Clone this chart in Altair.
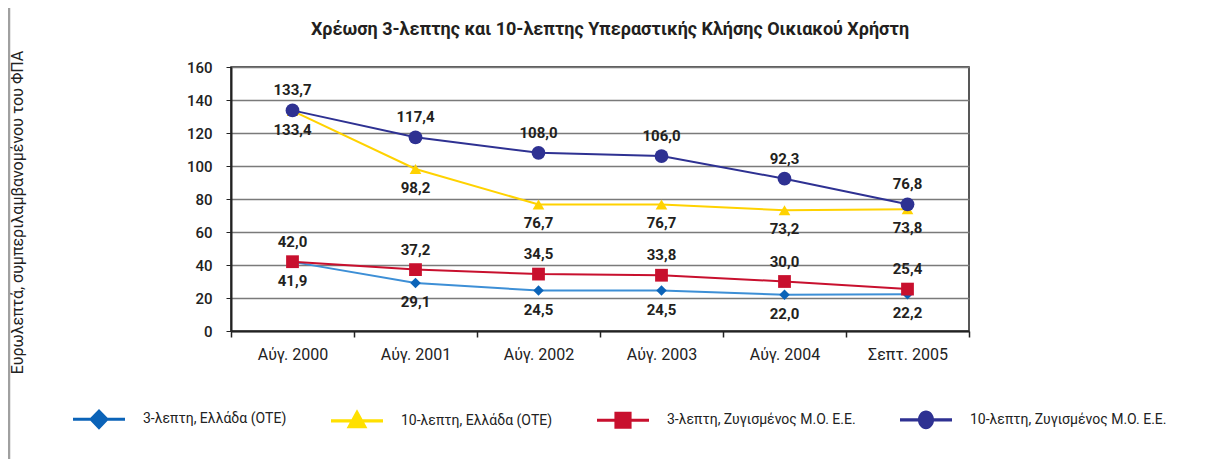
import altair as alt
import pandas as pd

categories = ["Αύγ. 2000", "Αύγ. 2001", "Αύγ. 2002", "Αύγ. 2003", "Αύγ. 2004", "Σεπτ. 2005"]
series_names = [
    "3-λεπτη, Ελλάδα (ΟΤΕ)",
    "10-λεπτη, Ελλάδα (ΟΤΕ)",
    "3-λεπτη, Ζυγισμένος Μ.Ο. Ε.Ε.",
    "10-λεπτη, Ζυγισμένος Μ.Ο. Ε.Ε.",
]
greece_3min = [41.9, 29.1, 24.5, 24.5, 22.0, 22.2]
greece_10min = [133.4, 98.2, 76.7, 76.7, 73.2, 73.8]
eu_3min = [42.0, 37.2, 34.5, 33.8, 30.0, 25.4]
eu_10min = [133.7, 117.4, 108.0, 106.0, 92.3, 76.8]

title_text = "Χρέωση 3-λεπτης και 10-λεπτης Υπεραστικής Κλήσης Οικιακού Χρήστη"
y_title = "Ευρωλεπτά, συμπεριλαμβανομένου του ΦΠΑ"
y_ticks = [0, 20, 40, 60, 80, 100, 120, 140, 160]

rows = []
for name, vals in zip(series_names, [greece_3min, greece_10min, eu_3min, eu_10min]):
    for c, v in zip(categories, vals):
        rows.append({"period": c, "series": name, "value": v})
df = pd.DataFrame(rows)

line_colors = ["#3D8FD6", "#FFD200", "#C8102E", "#2E3192"]
mark_colors = ["#0B63B8", "#FFD200", "#C8102E", "#2E3192"]
legend_colors = ["#0B63B8", "#FFE000", "#C8102E", "#2E3192"]

BAR = "M-1,-0.06L1,-0.06L1,0.06L-1,0.06Z"
legend_paths = [
    BAR + "M0,-0.4L0.385,0L0,0.4L-0.385,0Z",
    BAR + "M0,-0.45L0.4,0.28L-0.4,0.28Z",
    BAR + "M-0.33,-0.33L0.33,-0.33L0.33,0.33L-0.33,0.33Z",
    BAR + "M-0.31,0A0.31,0.36,0,1,1,0.31,0A0.31,0.36,0,1,1,-0.31,0Z",
]

LABEL_FONT = "Roboto"
AXIS_FONT = "Roboto"

x_enc = alt.X(
    "period:N",
    sort=categories,
    scale=alt.Scale(domain=categories, paddingInner=0, paddingOuter=0),
    axis=alt.Axis(
        title=None,
        labelAngle=0,
        tickBand="extent",
        tickSize=6,
        tickColor="#222222",
        tickWidth=1.5,
        labelPadding=9,
        labelFont=AXIS_FONT,
        labelFontSize=16,
        labelColor="#222222",
        domainColor="#222222",
        domainWidth=2,
        grid=False,
    ),
)
y_enc = alt.Y(
    "value:Q",
    scale=alt.Scale(domain=[0, 160], nice=False),
    axis=alt.Axis(
        title=y_title,
        values=y_ticks,
        titleFont=AXIS_FONT,
        titleFontSize=16,
        titleFontWeight="normal",
        titleColor="#222222",
        titleX=-214,
        titleY=145,
        titleAngle=270,
        titleBaseline="middle",
        titleAlign="center",
        tickSize=5,
        tickColor="#222222",
        labelPadding=14,
        labelFont=AXIS_FONT,
        labelFontSize=15,
        labelFontWeight=500,
        labelColor="#222222",
        domainColor="#222222",
        domainWidth=2,
        grid=True,
        gridColor="#7A7A7A",
        gridWidth=1.5,
    ),
)

base = alt.Chart(df)

lines = base.mark_line(strokeWidth=2).encode(
    x=x_enc,
    y=y_enc,
    color=alt.Color("series:N", scale=alt.Scale(domain=series_names, range=line_colors), legend=None),
)

points = base.mark_point(filled=True, opacity=1).encode(
    x=x_enc,
    y=y_enc,
    color=alt.Color("series:N", scale=alt.Scale(domain=series_names, range=mark_colors), legend=None),
    shape=alt.Shape("series:N", scale=alt.Scale(domain=series_names,
                                                 range=["diamond", "triangle-up", "square", "circle"]), legend=None),
    size=alt.Size("series:N", scale=alt.Scale(domain=series_names, range=[110, 190, 170, 140]), legend=None),
)

labels_above = base.transform_filter(
    alt.FieldOneOfPredicate(field="series", oneOf=[series_names[2], series_names[3]])
).transform_calculate(
    lab="replace(format(datum.value, '.1f'), '.', ',')"
).mark_text(dy=-20, font=LABEL_FONT, fontSize=15, fontWeight="bold", color="#231F20").encode(
    x=x_enc, y=y_enc, text="lab:N"
)

labels_below = base.transform_filter(
    alt.FieldOneOfPredicate(field="series", oneOf=[series_names[0], series_names[1]])
).transform_calculate(
    lab="replace(format(datum.value, '.1f'), '.', ',')"
).mark_text(dy=19, font=LABEL_FONT, fontSize=15, fontWeight="bold", color="#231F20").encode(
    x=x_enc, y=y_enc, text="lab:N"
)

legend_props = dict(
    title=None,
    orient="none",
    legendX=-158,
    legendY=326,
    direction="horizontal",
    columns=4,
    columnPadding=44,
    symbolSize=2704,
    symbolStrokeWidth=0,
    symbolOpacity=1,
    labelOffset=18,
    labelFont=AXIS_FONT,
    labelFontSize=14,
    labelColor="#222222",
    labelLimit=400,
)

legend_layer = base.transform_filter("false").mark_point(filled=True, opacity=1).encode(
    color=alt.Color(
        "series:N",
        scale=alt.Scale(domain=series_names, range=legend_colors),
        legend=alt.Legend(**legend_props),
    ),
    shape=alt.Shape(
        "series:N",
        scale=alt.Scale(domain=series_names, range=legend_paths),
        legend=alt.Legend(**legend_props),
    ),
)

frame_line = alt.Chart(alt.Data(values=[{}])).mark_rule(color="#A0A0A0", strokeWidth=2.5).encode(
    x=alt.value(-222), y=alt.value(-59), y2=alt.value(392)
)

chart = alt.layer(lines, points, labels_above, labels_below, legend_layer, frame_line).resolve_scale(
    color="independent", shape="independent", size="independent"
).properties(
    width=738,
    height=264,
    title=alt.TitleParams(
        title_text,
        font=LABEL_FONT,
        fontSize=18,
        fontWeight="bold",
        color="#231F20",
        anchor="middle",
        dx=10,
        dy=52,
        offset=20,
    ),
    padding={"left": 223, "top": 59, "right": 228, "bottom": 129},
    autosize="none",
).configure_view(
    stroke="#222222", strokeWidth=1.5
)

chart.save("out.html", embed_options={"renderer": "svg", "actions": False})
